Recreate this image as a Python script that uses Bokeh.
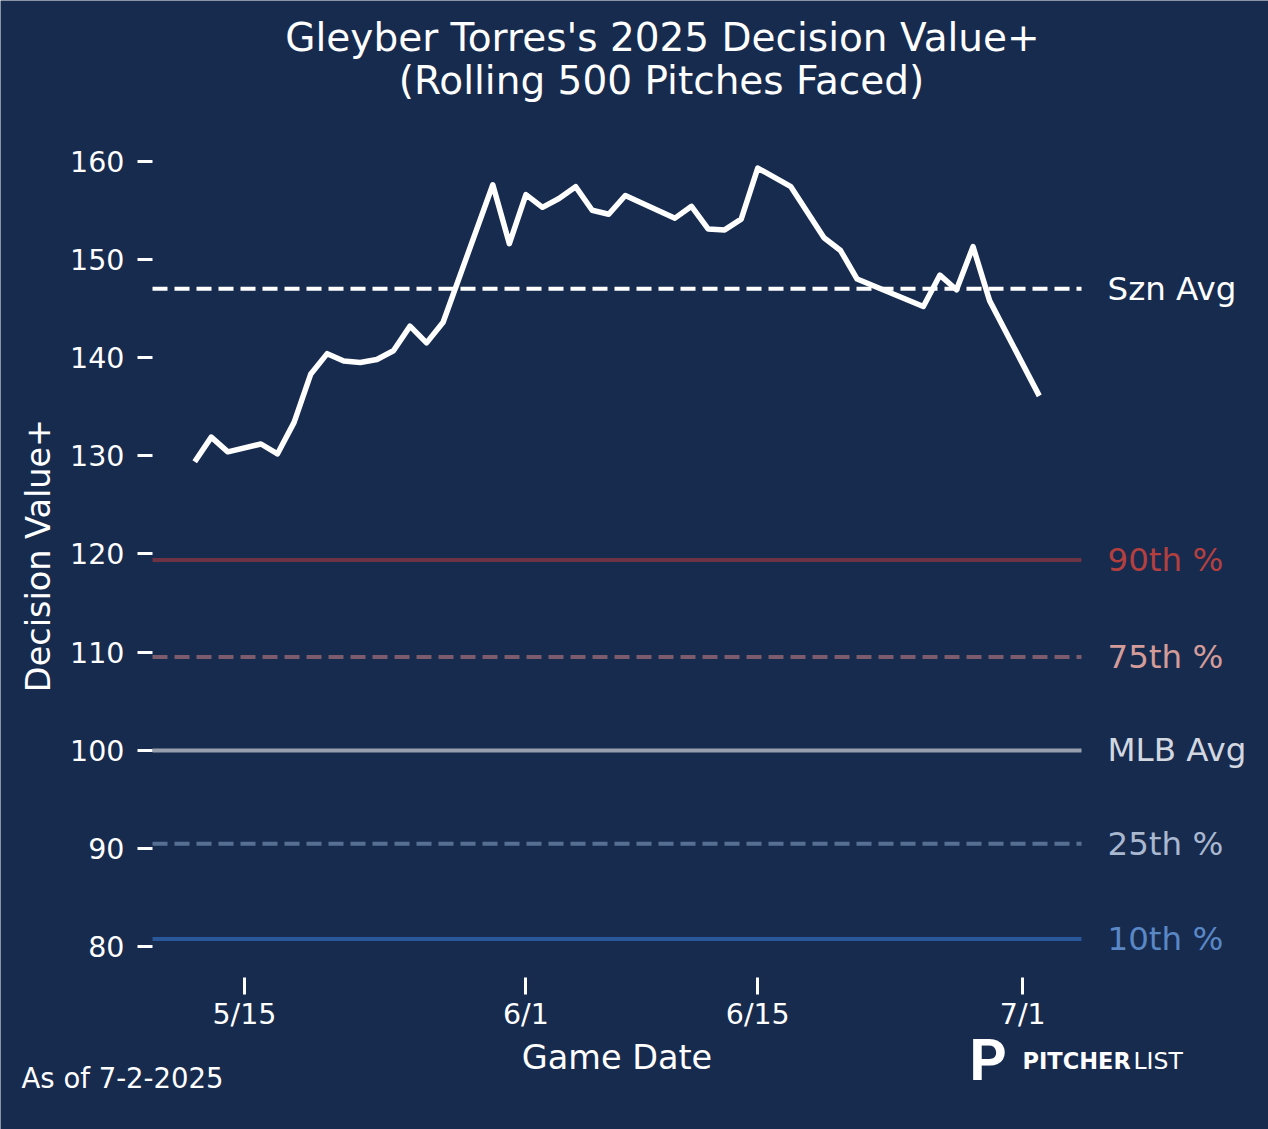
import math
import pandas as pd
from bokeh.plotting import figure
from bokeh.models import Range1d, FixedTicker, Label
from bokeh.embed import file_html
from bokeh.resources import INLINE

BG = "#172b4f"
FONT = "DejaVu Sans"
W, H = 1268, 1129
# plot-area box (pixels) of the original chart: left, right, top, bottom
AREA_L, AREA_R, AREA_T, AREA_B = 152, 1081, 129, 977

game_dates = ["2025-05-12", "2025-05-13", "2025-05-14", "2025-05-16", "2025-05-17",
              "2025-05-18", "2025-05-19", "2025-05-20", "2025-05-21", "2025-05-22",
              "2025-05-23", "2025-05-24", "2025-05-25", "2025-05-26", "2025-05-27",
              "2025-05-30", "2025-05-31", "2025-06-01", "2025-06-02", "2025-06-03",
              "2025-06-04", "2025-06-05", "2025-06-06", "2025-06-07", "2025-06-10",
              "2025-06-11", "2025-06-12", "2025-06-13", "2025-06-14", "2025-06-15",
              "2025-06-17", "2025-06-19", "2025-06-20", "2025-06-21", "2025-06-25",
              "2025-06-26", "2025-06-27", "2025-06-28", "2025-06-29", "2025-07-02"]
dv_plus = [129.4, 131.9, 130.4, 131.2, 130.2,
           133.4, 138.3, 140.4, 139.65, 139.5,
           139.8, 140.7, 143.2, 141.5, 143.6,
           157.6, 151.6, 156.6, 155.3, 156.2,
           157.4, 155.0, 154.6, 156.5, 154.2,
           155.4, 153.1, 153.0, 154.1, 159.3,
           157.4, 152.2, 150.9, 148.0, 145.2,
           148.4, 146.9, 151.3, 145.8, 136.1]

ref_names = ["Szn Avg", "90th %", "75th %", "MLB Avg", "25th %", "10th %"]
ref_values = [147.0, 119.4, 109.5, 100.0, 90.5, 80.8]
ref_line_colors = ["#ffffff", "#6c3344", "#7b5b6c", "#98a0ae", "#566f93", "#2a5799"]
ref_text_colors = ["#ffffff", "#b3403f", "#d49c99", "#d3d8e0", "#a9b8cf", "#5a87c5"]
ref_dashes = ["15 7", "solid", "15 7", "solid", "15 7", "solid"]

tick_dates = ["2025-05-15", "2025-06-01", "2025-06-15", "2025-07-01"]
tick_labels = ["5/15", "6/1", "6/15", "7/1"]
y_ticks = [80, 90, 100, 110, 120, 130, 140, 150, 160]

title_lines = ["Gleyber Torres's 2025 Decision Value+", "(Rolling 500 Pitches Faced)"]
x_title = "Game Date"
y_title = "Decision Value+"
footnote = "As of 7-2-2025"


def to_ms(d):
    return float(pd.Timestamp(d).value // 10**6)


xs = [to_ms(d) for d in game_dates]
tick_ms = [to_ms(d) for d in tick_dates]

# data limits with 5% margins
xspan = xs[-1] - xs[0]
x_lo, x_hi = xs[0] - 0.05 * xspan, xs[-1] + 0.05 * xspan
yall = dv_plus + ref_values
ylo, yhi = min(yall), max(yall)
ypad = 0.05 * (yhi - ylo)
y_lo, y_hi = ylo - ypad, yhi + ypad

# the frame fills the whole canvas; extend ranges so the data area sits at AREA_*
ppx = (AREA_R - AREA_L) / (x_hi - x_lo)
ppy = (AREA_B - AREA_T) / (y_hi - y_lo)
x_range = Range1d(x_lo - AREA_L / ppx, x_hi + (W - AREA_R) / ppx)
y_range = Range1d(y_lo - (H - AREA_B) / ppy, y_hi + AREA_T / ppy)

p = figure(width=W, height=H, x_axis_type="datetime",
           x_range=x_range, y_range=y_range,
           output_backend="svg", toolbar_location=None,
           min_border=0, min_border_left=0, min_border_right=0,
           min_border_top=0, min_border_bottom=0,
           background_fill_color=BG, border_fill_color=BG)
p.outline_line_color = None
p.title.visible = False
p.grid.visible = False

for ax in (p.xaxis, p.yaxis):
    ax.axis_line_color = None
    ax.major_tick_line_color = "white"
    ax.major_tick_line_width = 3
    ax.major_tick_in = 0
    ax.minor_tick_line_color = None
    ax.major_label_text_color = "white"
    ax.major_label_text_font = FONT
    ax.major_label_text_font_size = "28.5px"

p.xaxis.fixed_location = y_lo
p.xaxis.bounds = (x_lo, x_hi)
p.xaxis.ticker = FixedTicker(ticks=tick_ms)
p.xaxis.major_label_overrides = {t: l for t, l in zip(tick_ms, tick_labels)}
p.xaxis.major_tick_out = 17
p.xaxis.major_label_standoff = 3

p.yaxis.fixed_location = x_lo
p.yaxis.bounds = (y_lo, y_hi)
p.yaxis.ticker = FixedTicker(ticks=y_ticks)
p.yaxis.major_tick_out = 15
p.yaxis.major_label_standoff = 13

# reference lines across the data area
for v, c, d in zip(ref_values, ref_line_colors, ref_dashes):
    p.segment(x0=x_lo, y0=v, x1=x_hi, y1=v, line_color=c, line_width=4, line_dash=d)

p.line(xs, dv_plus, line_color="white", line_width=5.5,
       line_join="round", line_cap="butt")


def add_label(x, y, text, color="white", size=28, font=FONT, style="normal",
              align="left", y_data=False, angle=0.0):
    # x: page pixels from left; y: page pixels from top (centre of text) or data value
    p.add_layout(Label(x=x, y=y if y_data else H - y, x_units="screen",
                       y_units="data" if y_data else "screen", text=text,
                       text_align=align, text_baseline="middle", text_color=color,
                       text_font=font, text_font_style=style,
                       text_font_size=f"{size}px", angle=angle))


for name, v, c in zip(ref_names, ref_values, ref_text_colors):
    add_label(1107, v, name, color=c, size=32.5, y_data=True)

add_label(662, 36.5, title_lines[0], size=39, align="center")
add_label(661, 80, title_lines[1], size=39, align="center")

add_label((AREA_L + AREA_R) / 2, 1057, x_title, size=33.5, align="center")
add_label(37.5, 555, y_title, size=33.5, align="center", angle=math.pi / 2)

add_label(21, 1077, footnote, size=27.5)

# Pitcher List logo
add_label(969, 1059, "P", font="Roboto", style="bold", size=58)
add_label(1022, 1060, "PITCHER", font=FONT, style="bold", size=22.5)
add_label(1133, 1060, "LIST", font=FONT, size=23.5)

open("out.html", "w").write(file_html(p, INLINE))
